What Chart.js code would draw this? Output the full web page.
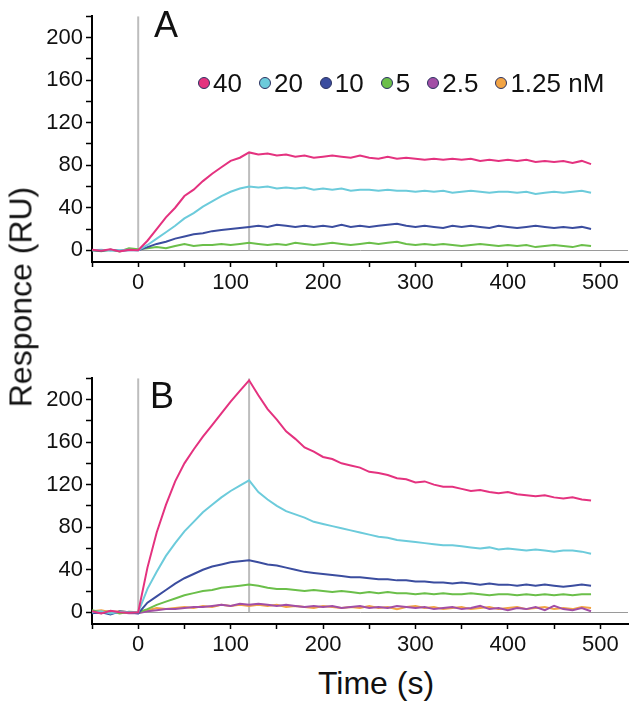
<!DOCTYPE html>
<html>
<head>
<meta charset="utf-8">
<script src="https://cdn.jsdelivr.net/npm/chart.js@4"></script>
<style>
body { margin: 0; background: #fff; font-family: "Liberation Sans", Arial, sans-serif; color: #111; }
#wrap { position: relative; width: 636px; height: 712px; overflow: hidden; }
canvas { position: absolute; left: 0; }
.panel { position: absolute; font-size: 36px; line-height: 36px; z-index: 2; }
#legend { position: absolute; left: 198px; top: 68px; width: 440px; display: flex; align-items: center; font-size: 26px; line-height: 30px; white-space: nowrap; z-index: 2; }
.item { display: flex; align-items: center; flex-shrink: 0; margin-right: 17px; }
.dot { width: 12px; height: 12px; border-radius: 50%; border: 1.5px solid #2b3160; box-sizing: border-box; margin-right: 3px; }
#ytitle { position: absolute; left: 21px; top: 297px; transform: translate(-50%, -50%) rotate(-90deg); font-size: 32px; white-space: nowrap; }
#xtitle { position: absolute; left: 376px; top: 683px; transform: translate(-50%, -50%); font-size: 32px; white-space: nowrap; }
</style>
</head>
<body>
<div id="wrap">
  <canvas id="chartA" width="636" height="300" style="top:0"></canvas>
  <canvas id="chartB" width="636" height="300" style="top:362px"></canvas>
  <div id="legend"></div>
  <div class="panel" style="left:154px;top:7px">A</div>
  <div class="panel" style="left:150px;top:378px">B</div>
  <div id="ytitle">Responce (RU)</div>
  <div id="xtitle">Time (s)</div>
</div>
<script>
// time points (s)
const time = [-50, -40, -30, -20, -10, 0, 10, 20, 30, 40, 50, 60, 70, 80, 90, 100, 110, 120,
  130, 140, 150, 160, 170, 180, 190, 200, 210, 220,
  230, 240, 250, 260, 270, 280, 290, 300, 310, 320,
  330, 340, 350, 360, 370, 380, 390, 400, 410, 420,
  430, 440, 450, 460, 470, 480, 490];

// panel A responses (RU)
const a40 = [0.5, -0.5, 1, -1, 0.5, 0, 9, 20, 31, 40, 51, 57, 65, 72, 78, 84, 87, 92,
  90, 91, 89, 90, 88, 89, 87, 88, 89, 88,
  87, 89, 87, 86, 88, 86, 87, 86, 85, 86,
  85, 86, 85, 86, 84, 85, 84, 85, 84, 85,
  83, 84, 83, 84, 82, 84, 81];
const a20 = [0, 0.5, -0.5, 0, 0.5, 0, 5, 11, 17, 23, 30, 35, 41, 46, 51, 55, 58, 60,
  59, 60, 58, 59, 58, 59, 57, 58, 57, 58,
  56, 57, 57, 56, 57, 56, 56, 55, 56, 55,
  56, 54, 55, 56, 55, 54, 55, 55, 54, 55,
  53, 54, 55, 54, 55, 56, 54];
const a10 = [0, -0.5, 0.5, -0.5, 0, 0, 3, 6, 8, 11, 13, 15, 16, 18, 19, 20, 21, 22,
  23, 22, 24, 23, 22, 23, 22, 23, 22, 24,
  22, 23, 22, 23, 24, 25, 23, 22, 23, 22,
  21, 23, 22, 23, 22, 21, 23, 22, 21, 22,
  23, 22, 21, 22, 21, 22, 20];
const a5 = [0, -1, 0.5, -1, 2, 1, 2, 3, 2, 4, 6, 4, 5, 5, 6, 5, 6, 7,
  6, 5, 6, 5, 7, 6, 5, 6, 7, 6,
  5, 6, 7, 6, 7, 8, 6, 5, 6, 5,
  6, 5, 4, 5, 6, 5, 4, 5, 4, 5,
  3, 4, 5, 4, 3, 5, 4];

// panel B responses (RU)
const b40 = [1, -1, 1.5, 0, -0.5, 0, 42, 75, 101, 123, 140, 153, 165, 176, 187, 198, 208, 218,
  204, 191, 181, 170, 163, 155, 151, 146, 144, 140,
  138, 136, 132, 131, 129, 126, 125, 122, 123, 120,
  118, 118, 116, 114, 115, 113, 112, 113, 111, 110,
  109, 110, 108, 107, 108, 106, 105];
const b20 = [0, 1, -1, 0.5, 0, 0, 22, 38, 53, 65, 76, 85, 94, 101, 108, 114, 119, 124,
  113, 106, 100, 95, 92, 89, 85, 83, 81, 79,
  77, 75, 73, 71, 70, 68, 67, 66, 65, 64,
  63, 63, 62, 61, 60, 61, 59, 60, 59, 58,
  59, 58, 57, 58, 58, 57, 55];
const b10 = [-1, 0, -2, 1, 0, -1, 9, 15, 21, 27, 32, 36, 40, 43, 45, 47, 48, 49,
  47, 45, 44, 42, 40, 38, 37, 36, 35, 34,
  33, 33, 32, 31, 31, 30, 30, 29, 29, 28,
  28, 27, 28, 27, 26, 27, 26, 26, 25, 26,
  25, 26, 25, 24, 25, 26, 25];
const b5 = [2, 0, 1, -1, 0.5, 0, 3, 7, 10, 13, 16, 18, 20, 21, 23, 24, 25, 26,
  25, 23, 22, 22, 21, 20, 21, 20, 19, 20,
  19, 18, 19, 18, 19, 18, 18, 17, 18, 17,
  18, 17, 17, 18, 17, 16, 17, 17, 16, 17,
  16, 17, 16, 17, 16, 17, 17];
const b2_5 = [0, -1, 1, 0, -1, -1, 1, 2, 3, 3, 4, 5, 5, 6, 7, 6, 8, 7,
  8, 7, 6, 7, 6, 5, 6, 5, 6, 4,
  5, 6, 4, 5, 4, 6, 5, 4, 5, 3,
  4, 5, 3, 4, 6, 3, 4, 2, 4, 3,
  5, 2, 6, 3, 2, 4, 1];
const b1_25 = [1, 2, 0, 1, 0, 0, 2, 4, 3, 4, 5, 4, 6, 5, 7, 6, 7, 6,
  7, 6, 7, 5, 6, 5, 4, 6, 5, 4,
  5, 4, 6, 4, 5, 3, 5, 6, 4, 5,
  3, 4, 5, 3, 4, 5, 3, 4, 5, 3,
  4, 5, 3, 4, 3, 5, 4];

const concLabels = ['40', '20', '10', '5', '2.5', '1.25'];
const concUnit = 'nM';
const colors = ['#e4327f', '#6ccbdb', '#3b4d9f', '#6bbf4a', '#a24ea6', '#f2a445'];

// injection start / end and how high the marker line goes in each panel
const phaseTimes = [0, 120];
const phaseTopA = [220, 92];
const phaseTopB = [220, 220];

const xTicks = [-50, 0, 50, 100, 150, 200, 250, 300, 350, 400, 450, 500];
const xLabels = [0, 100, 200, 300, 400, 500];
const yTicks = [0, 20, 40, 60, 80, 100, 120, 140, 160, 180, 200, 220];
const yLabels = [0, 40, 80, 120, 160, 200];

Chart.defaults.font.family = '"Liberation Sans", Arial, sans-serif';
Chart.defaults.color = '#111';

function makeChart(id, seriesList, phaseTop) {
  const datasets = seriesList.map((vals, i) => ({
    data: time.map((t, j) => ({ x: t, y: vals[j] })),
    borderColor: colors[i],
    borderWidth: 2,
    pointRadius: 0,
    tension: 0,
    fill: false
  }));
  phaseTimes.forEach((t, i) => {
    datasets.push({
      data: [{ x: t, y: 0 }, { x: t, y: phaseTop[i] }],
      borderColor: '#bdbdbd',
      borderWidth: 2,
      pointRadius: 0
    });
  });

  return new Chart(document.getElementById(id), {
    type: 'line',
    data: { datasets: datasets },
    options: {
      responsive: false,
      animation: false,
      layout: { padding: { top: 10, right: 8, left: 0, bottom: 0 } },
      plugins: { legend: { display: false }, tooltip: { enabled: false } },
      scales: {
        x: {
          type: 'linear',
          min: -50,
          max: 530,
          afterBuildTicks: axis => { axis.ticks = xTicks.map(v => ({ value: v })); },
          afterFit: axis => { axis.height = 38; },
          ticks: {
            autoSkip: false,
            maxRotation: 0,
            padding: 3,
            font: { size: 22 },
            callback: v => xLabels.includes(v) ? String(v) : ''
          },
          grid: { drawOnChartArea: false, tickLength: 5, tickColor: '#000', tickWidth: 1.5 },
          border: { color: '#000', width: 2 }
        },
        y: {
          min: -11,
          max: 220,
          afterBuildTicks: axis => { axis.ticks = yTicks.map(v => ({ value: v })); },
          afterFit: axis => { axis.width = 92; },
          ticks: {
            autoSkip: false,
            padding: 3,
            font: { size: 22 },
            callback: v => yLabels.includes(v) ? String(v) : ''
          },
          grid: {
            drawOnChartArea: true,
            color: c => (c.tick && c.tick.value === 0) ? '#9a9a9a' : 'rgba(0,0,0,0)',
            lineWidth: 1,
            tickLength: 6,
            tickColor: '#000',
            tickWidth: 1.5
          },
          border: { color: '#000', width: 2 }
        }
      }
    }
  });
}

makeChart('chartA', [a40, a20, a10, a5], phaseTopA);
makeChart('chartB', [b40, b20, b10, b5, b2_5, b1_25], phaseTopB);

// legend inside panel A
const legend = document.getElementById('legend');
concLabels.forEach((lab, i) => {
  const item = document.createElement('div');
  item.className = 'item';
  const dot = document.createElement('span');
  dot.className = 'dot';
  dot.style.background = colors[i];
  const txt = document.createElement('span');
  txt.textContent = i === concLabels.length - 1 ? lab + ' ' + concUnit : lab;
  item.appendChild(dot);
  item.appendChild(txt);
  legend.appendChild(item);
});
</script>
</body>
</html>
